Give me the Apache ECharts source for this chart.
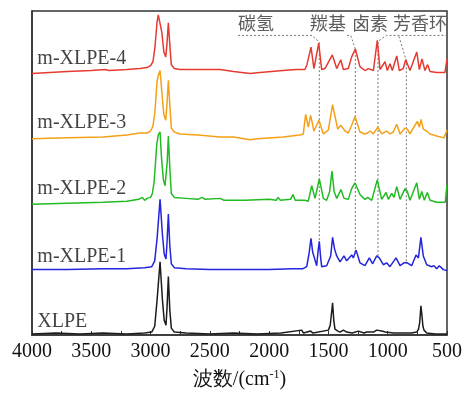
<!DOCTYPE html>
<html>
<head>
<meta charset="utf-8">
<script src="https://cdn.jsdelivr.net/npm/echarts@6/dist/echarts.min.js"></script>
<style>
  html, body { margin: 0; padding: 0; background: #fff; }
  #chart { width: 465px; height: 395px; }
</style>
</head>
<body>
<div id="chart"></div>
<script>
// 红外光谱 [波数 cm-1, 相对吸光度]
const xlpe = [[4000,0],[3800,1],[3600,0],[3400,1],[3200,0],[3050,1],[2990,2],[2965,8],[2945,35],[2920,74],[2900,35],[2885,14],[2870,9],[2862,25],[2850,59],[2838,25],[2825,6],[2800,2],[2700,1],[2500,0],[2300,1],[2100,0],[1900,1],[1725,4],[1710,1],[1650,3],[1630,1],[1500,4],[1485,9],[1475,20],[1465,32],[1455,14],[1445,5],[1420,3],[1402,2],[1374,4],[1346,2],[1300,1],[1248,3],[1200,1],[1177,2],[1120,2],[1093,4],[1050,3],[1020,2],[950,1],[896,1],[800,1],[755,2],[740,5],[730,12],[720,29],[712,20],[703,8],[694,4],[671,1],[600,0],[500,0]];

const mxlpe1 = [[4000,0],[3700,0],[3400,1],[3200,1],[3050,2],[2990,3],[2965,9],[2945,32],[2920,72],[2900,36],[2885,16],[2870,11],[2862,26],[2850,57],[2838,25],[2825,6],[2800,2],[2700,1],[2500,0],[2200,0],[2000,0],[1800,1],[1714,1],[1683,3],[1664,16],[1647,32],[1633,18],[1619,16],[1599,4],[1588,18],[1577,29],[1567,14],[1557,3],[1515,4],[1481,14],[1465,33],[1448,21],[1430,14],[1402,8],[1369,14],[1346,9],[1304,15],[1290,12],[1267,20],[1234,7],[1192,4],[1155,12],[1127,6],[1093,14],[1071,12],[1037,5],[1009,7],[981,3],[930,12],[896,4],[863,7],[835,7],[798,4],[761,15],[741,12],[720,33],[700,14],[671,5],[629,3],[610,4],[587,1],[565,4],[531,0],[500,-1]];

const mxlpe2 = [[4000,-3],[3700,-2],[3400,-1],[3200,0],[3100,2],[3070,4],[3050,1],[3030,3],[3000,4],[2985,8],[2970,20],[2948,58],[2935,68],[2920,71],[2908,45],[2892,22],[2878,16],[2868,18],[2860,40],[2850,67],[2838,35],[2825,8],[2800,4],[2700,3],[2600,2],[2566,4],[2540,2],[2414,3],[2380,1],[2200,1],[2000,2],[1940,1],[1925,4],[1905,1],[1820,2],[1799,7],[1780,1],[1720,1],[1698,1],[1670,0],[1641,16],[1613,3],[1577,23],[1543,3],[1515,1],[1490,10],[1470,31],[1452,10],[1430,3],[1394,12],[1369,3],[1332,2],[1304,13],[1276,19],[1234,7],[1192,2],[1169,4],[1135,1],[1088,22],[1051,2],[1014,9],[995,2],[966,8],[947,4],[924,15],[896,2],[854,13],[835,10],[812,1],[755,19],[733,2],[713,10],[691,1],[666,9],[643,1],[587,-1],[515,-1],[500,17]];

const mxlpe3 = [[4000,-3],[3700,-2],[3400,-1],[3200,1],[3089,3],[3030,3],[3000,5],[2980,10],[2963,25],[2946,55],[2935,62],[2920,67],[2905,45],[2888,22],[2872,16],[2862,32],[2850,57],[2838,32],[2825,8],[2800,4],[2752,2],[2600,1],[2414,-1],[2300,-1],[2161,-4],[2100,-3],[1883,-1],[1740,1],[1712,2],[1692,22],[1670,9],[1650,21],[1622,5],[1580,16],[1543,2],[1501,6],[1465,32],[1422,7],[1396,11],[1360,5],[1332,3],[1304,11],[1276,20],[1234,4],[1192,2],[1169,3],[1149,5],[1121,2],[1084,9],[1051,2],[1009,5],[981,2],[953,4],[924,12],[896,2],[854,8],[835,7],[812,2],[770,11],[750,15],[733,9],[719,17],[700,7],[671,5],[643,2],[587,0],[525,-2],[500,6]];

const mxlpe4 = [[4000,-2],[3700,0],[3500,1],[3384,2],[3350,1],[3200,2],[3089,3],[3030,4],[3000,6],[2980,10],[2963,25],[2946,50],[2935,58],[2920,60],[2905,40],[2888,20],[2872,15],[2862,28],[2850,50],[2838,28],[2825,7],[2800,3],[2752,2],[2600,2],[2414,2],[2300,0],[2161,-2],[2077,-1],[1883,1],[1773,2],[1740,2],[1698,2],[1681,7],[1647,25],[1622,3],[1582,29],[1557,2],[1529,3],[1467,17],[1430,3],[1396,12],[1374,2],[1332,3],[1304,15],[1290,13],[1273,23],[1234,5],[1192,1],[1164,3],[1121,1],[1088,32],[1065,2],[1023,10],[1003,1],[981,8],[961,1],[924,16],[902,1],[869,3],[848,12],[835,10],[812,1],[755,20],[733,2],[711,13],[686,1],[663,7],[643,0],[587,-1],[517,-1],[500,13]];

const spectra = [xlpe, mxlpe1, mxlpe2, mxlpe3, mxlpe4];
const sampleNames = ['XLPE', 'm-XLPE-1', 'm-XLPE-2', 'm-XLPE-3', 'm-XLPE-4'];
const offsets = [1, 67, 137, 204, 270]; // 纵向错开
const colors = ['#1c1c1c', '#2424dc', '#22bb22', '#f5a016', '#e63a30'];

// 官能团标注
const groupNames = ['碳氢', '羰基', '卤素', '芳香环'];
const groupWn = [1577, 1273, 1082, 843];

const serif = 'Liberation Serif, Times New Roman, serif';
const cjk = 'Noto Sans CJK SC';

let series = spectra.map((d, i) => ({
  type: 'line',
  name: sampleNames[i],
  data: d.map(p => [p[0], p[1] + offsets[i]]),
  showSymbol: false,
  symbol: 'none',
  lineStyle: { color: colors[i], width: 1.5 },
  z: 3
}));

// 样品名
series.push({
  type: 'scatter',
  symbolSize: 0,
  data: sampleNames.map((n, i) => ({ value: [3955, offsets[i] + 13], name: n })),
  label: {
    show: true, position: 'right', distance: 0, formatter: '{b}',
    fontFamily: serif, fontSize: 20, color: '#111'
  },
  silent: true,
  z: 5
});

// 标注文字
series.push({
  type: 'scatter',
  symbolSize: 0,
  data: groupNames.map((n, i) => ({ value: [[2111, 1504, 1149, 728][i], 320], name: n })),
  label: {
    show: true, position: 'inside', formatter: '{b}',
    fontFamily: cjk, fontSize: 18, color: '#333'
  },
  silent: true,
  z: 5
});

// 虚线与引线
series.push({
  type: 'lines',
  coordinateSystem: 'cartesian2d',
  polyline: true,
  silent: true,
  lineStyle: { color: '#777', width: 1, type: [2, 2], opacity: 1 },
  data: [
    { coords: [[2263, 307], [1638, 307], [groupWn[0], 300], [groupWn[0], 96]] },
    { coords: [[1343, 307], [1312, 307], [groupWn[1], 293], [groupWn[1], 85]] },
    { coords: [[groupWn[2], 81], [groupWn[2], 301], [1009, 307], [500, 307]] },
    { coords: [[905, 306], [groupWn[3], 281], [groupWn[3], 73]] }
  ],
  z: 2
});

const chart = echarts.init(document.getElementById('chart'));
chart.setOption({
  animation: false,
  backgroundColor: '#fff',
  grid: {
    left: 32, right: 17, top: 11, bottom: 52,
    show: true, borderColor: '#333', borderWidth: 1.5
  },
  xAxis: {
    type: 'value',
    inverse: true,
    min: 500, max: 4000, interval: 500,
    axisLine: { show: true, onZero: false, lineStyle: { color: '#333', width: 1.5 } },
    axisTick: { show: true, inside: true, length: 4, lineStyle: { color: '#333' } },
    minorTick: { show: true, splitNumber: 2, length: 4, lineStyle: { color: '#333' } },
    splitLine: { show: false },
    axisLabel: {
      fontFamily: serif, fontSize: 20, color: '#111', margin: 7,
      formatter: v => String(v)
    },
    name: '{t|波数/(cm}{s|-1}{u|)}',
    nameLocation: 'middle',
    nameGap: 34,
    nameTextStyle: {
      rich: {
        t: { fontFamily: serif, fontSize: 20, color: '#111', lineHeight: 22 },
        s: { fontFamily: serif, fontSize: 12, color: '#111', verticalAlign: 'top', lineHeight: 12 },
        u: { fontFamily: serif, fontSize: 20, color: '#111', lineHeight: 22 }
      }
    }
  },
  yAxis: {
    type: 'value',
    min: 0, max: 332,
    axisLine: { show: true, lineStyle: { color: '#333', width: 1.5 } },
    axisTick: { show: false },
    axisLabel: { show: false },
    splitLine: { show: false }
  },
  series: series
});
</script>
</body>
</html>
